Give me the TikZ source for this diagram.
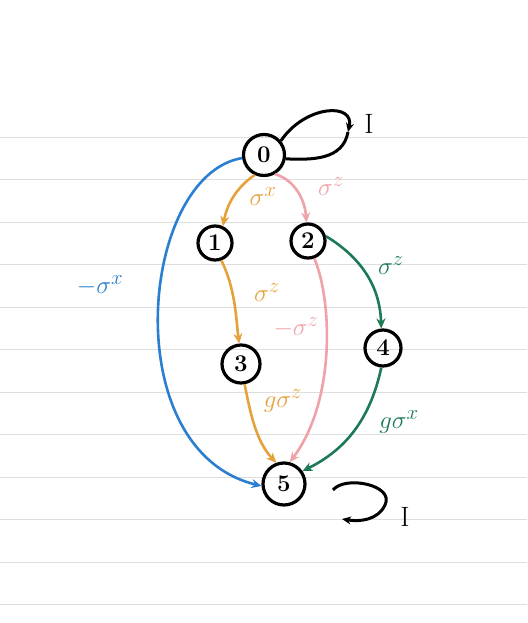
\documentclass[tikz,border=0pt]{standalone}
\usetikzlibrary{arrows.meta}
\definecolor{cblue}{HTML}{2A7FD0}
\definecolor{corange}{HTML}{E6A23A}
\definecolor{cpink}{HTML}{EFA2A8}
\definecolor{cgreen}{HTML}{1E7A55}
\definecolor{paperline}{HTML}{DEDEDE}
\begin{document}
\begin{tikzpicture}[x=1pt,y=-1pt,
  state/.style={circle,draw=black,line width=3.2pt,inner sep=0pt,font=\fontsize{24}{24}\selectfont\bfseries},
  edge/.style={line width=2.6pt,-{Stealth[length=10pt,width=9pt]}},
  lbl/.style={font=\fontsize{28}{28}\selectfont},
  loopline/.style={line width=3pt,black}]
\useasboundingbox (0,0) rectangle (527,623);
\fill[white] (0,0) rectangle (527,623);
\foreach \y in {137,179.5,222,264.5,307,349.5,392,434.5,477,519.5,562,604.5}
  \draw[paperline,line width=1pt] (0,\y) -- (527,\y);
% nodes
\node[state,minimum size=41pt] (n0) at (264,155) {0};
\node[state,minimum size=34pt] (n1) at (215,243) {1};
\node[state,minimum size=34pt] (n2) at (308,241) {2};
\node[state,minimum size=38pt] (n3) at (241,364) {3};
\node[state,minimum size=36pt] (n4) at (383,348) {4};
\node[state,minimum size=42pt] (n5) at (284,484) {5};
% self loops
\coordinate (l0a) at (348,132);
\draw[loopline,-{Stealth[length=9pt,width=8pt]}] (n0.40) .. controls (305,105) and (355,102) .. (l0a);
\draw[loopline] (l0a) .. controls (343,160) and (312,160) .. (n0.-10);
\node[lbl,font=\fontsize{28}{28}\selectfont] (i0) at (369,124) {I};
\coordinate (l5s) at (333,490);
\coordinate (l5e) at (342,519);
\draw[loopline,-{Stealth[length=9pt,width=8pt]}] (l5s) .. controls (345,475) and (395,485) .. (385,505) .. controls (378,520) and (360,522) .. (l5e);
\node[lbl,font=\fontsize{28}{28}\selectfont] (i5) at (405,517) {I};
% edges
\draw[edge,cblue] (n0.188) .. controls (140,175) and (115,450) .. (n5.185);
\node[lbl,text=cblue] (lb) at (100,286) {$-\sigma^x$};
\draw[edge,corange] (n0.245) .. controls (240,185) and (228,200) .. (n1.65);
\node[lbl,text=corange] (lo1) at (263,197) {$\sigma^x$};
\draw[edge,cpink] (n0.300) .. controls (295,180) and (305,200) .. (n2.95);
\node[lbl,text=cpink] (lp1) at (331,187) {$\sigma^z$};
\draw[edge,corange] (n1.290) .. controls (236,290) and (236,320) .. (n3.95);
\node[lbl,text=corange] (lo2) at (267,293) {$\sigma^z$};
\draw[edge,cgreen] (n2.15) .. controls (365,260) and (380,290) .. (n4.95);
\node[lbl,text=cgreen] (lg1) at (391,266) {$\sigma^z$};
\draw[edge,cpink] (n2.290) .. controls (332,300) and (336,400) .. (n5.75);
\node[lbl,text=cpink] (lp2) at (296,328) {$-\sigma^z$};
\draw[edge,corange] (n3.280) .. controls (250,410) and (255,440) .. (n5.110);
\node[lbl,text=corange] (lo3) at (283,401) {$g\sigma^z$};
\draw[edge,cgreen] (n4.265) .. controls (370,420) and (345,450) .. (n5.35);
\node[lbl,text=cgreen] (lg2) at (399,422) {$g\sigma^x$};
\end{tikzpicture}
\end{document}
